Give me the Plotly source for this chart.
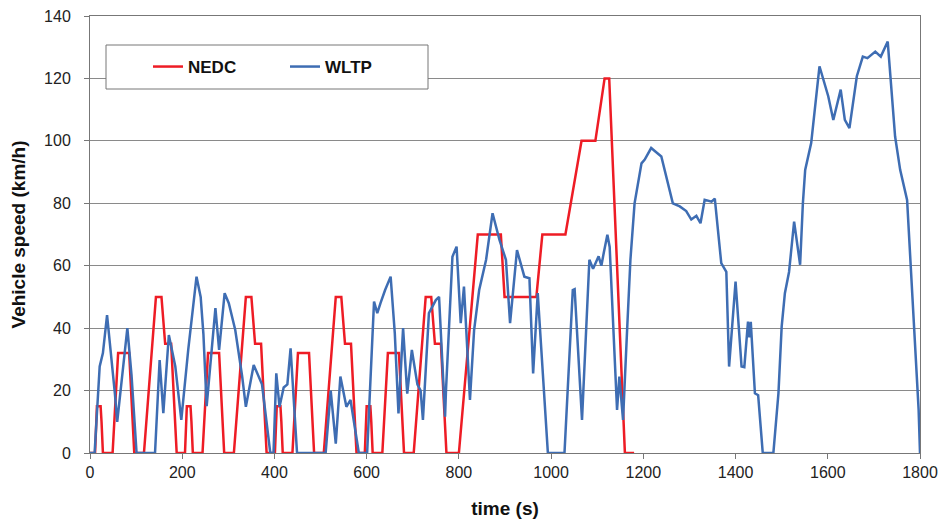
import plotly.graph_objects as go

# NEDC cycle (time s, speed km/h) - 4x ECE-15 + EUDC
ece_t = [0, 11, 15, 23, 25, 28, 49, 61, 85, 96, 117, 143, 155, 163, 176, 188, 195]
ece_v = [0, 0, 15, 15, 10, 0, 0, 32, 32, 0, 0, 50, 50, 35, 35, 0, 0]
eudc_t = [780, 800, 841, 891, 899, 968, 981, 1031, 1066, 1096, 1116, 1126, 1160, 1180]
eudc_v = [0, 0, 70, 70, 50, 50, 70, 70, 100, 100, 120, 120, 0, 0]

nedc_t, nedc_v = [], []
for k in range(4):
    for t, v in zip(ece_t, ece_v):
        nedc_t.append(t + 195 * k)
        nedc_v.append(v)
nedc_t += eudc_t
nedc_v += eudc_v

# WLTP (WLTC class 3)
wltp_t = [0, 10, 21, 28, 37, 43, 54, 59, 81, 90, 101, 141, 151, 159, 171, 185, 198,
          213, 231, 240, 246, 253, 272, 280, 292, 301, 315, 330, 338, 355, 365, 373,
          391, 398, 404, 411, 420, 428, 435, 449, 511, 522, 533, 543, 556, 565, 583,
          601, 616, 623, 630, 640, 652, 661, 669, 679, 688, 698, 710, 717, 722, 735,
          750, 757, 770, 772, 786, 795, 804, 811, 824, 833, 844, 859, 873, 888, 902,
          911, 926, 942, 953, 961, 971, 993, 1029, 1047, 1051, 1067, 1083, 1091, 1103,
          1109, 1114, 1122, 1127, 1139, 1143, 1148, 1156, 1165, 1172, 1181, 1196, 1203,
          1217, 1239, 1264, 1279, 1293, 1304, 1315, 1324, 1333, 1348, 1355, 1369, 1380,
          1386, 1400, 1413, 1419, 1427, 1430, 1433, 1442, 1449, 1459, 1482, 1493, 1500,
          1507, 1516, 1527, 1540, 1546, 1551, 1564, 1582, 1601, 1612, 1628, 1637, 1647,
          1663, 1676, 1686, 1703, 1715, 1730, 1746, 1757, 1772, 1785, 1797, 1800]
wltp_v = [0, 0, 27.7, 32, 44.2, 36, 19, 10, 40, 25, 0, 0, 29.8, 12.8, 37.8, 27.7, 10.6,
          33, 56.5, 50, 38, 15, 46.4, 33, 51.2, 48, 39.4, 24.5, 14.8, 28.2, 24.5, 22,
          0, 0, 25.5, 14.8, 21, 22, 33.5, 0, 0, 20, 3, 24.5, 14.8, 17, 0,
          0, 48.5, 44.8, 48, 52.2, 56.5, 38.4, 12.7, 40, 19, 33, 22, 20, 10.6, 44.8,
          49, 50, 11.6, 20, 62.9, 66.1, 41.6, 53.3, 17, 39.4, 52.2, 61.9, 76.8, 68.3, 61.9,
          41.6, 65, 56.5, 56, 25.5, 51.2, 0, 0, 52.2, 52.5, 10.6, 61.9, 59, 63,
          60, 64, 69.9, 66, 24.5, 13.8, 24.5, 10.6, 40, 61.9, 80, 92.8, 94,
          97.7, 95, 80, 79, 77.5, 74.8, 76, 73.6, 81.1, 80.5, 81.5, 60.8, 58,
          27.7, 54.9, 27.7, 27.5, 42.1, 37, 42, 19.1, 18.5, 0, 0, 19.1, 40.5,
          51.2, 58, 74.1, 60.3, 80, 90.7, 99.3, 123.9, 114.3, 106.7, 116.4, 106.7, 104.1,
          120.7, 127, 126.5, 128.6, 127, 131.8, 101.4, 90.7, 81.1, 45.8, 13.9, 0]

x_ticks = [0, 200, 400, 600, 800, 1000, 1200, 1400, 1600, 1800]
y_ticks = [0, 20, 40, 60, 80, 100, 120, 140]

fig = go.Figure()
fig.add_trace(go.Scatter(x=nedc_t, y=nedc_v, mode="lines", name="NEDC",
                         line=dict(color="#ee1c25", width=2.5)))
fig.add_trace(go.Scatter(x=wltp_t, y=wltp_v, mode="lines", name="WLTP",
                         line=dict(color="#3e6db3", width=2.5)))

axis_font = dict(family="Liberation Sans, Arial, sans-serif", size=16, color="#222")
title_font = dict(family="Liberation Sans, Arial, sans-serif", size=19, color="#111")

W, H = 940, 511
L, R, T, B = 82, 28, 8, 66
pw, ph = W - L - R, H - T - B

fig.update_layout(
    width=W, height=H,
    margin=dict(l=L, r=R, t=T, b=B, autoexpand=False),
    paper_bgcolor="white", plot_bgcolor="white",
    showlegend=True,
    legend=dict(orientation="h", x=58 / pw, y=1 - 51 / ph, xanchor="left", yanchor="middle",
                bgcolor="rgba(0,0,0,0)", borderwidth=0,
                font=dict(family="Liberation Sans, Arial, sans-serif", size=17, color="#111", weight="bold"),
                itemwidth=30, entrywidth=92, tracegroupgap=0),
    shapes=[dict(type="rect", xref="paper", yref="paper",
                 x0=16 / pw, x1=338 / pw, y0=1 - 73 / ph, y1=1 - 29 / ph,
                 line=dict(color="#777", width=1), fillcolor="white", layer="above")],
    xaxis=dict(range=[0, 1800], tickvals=x_ticks, ticks="outside", ticklen=5,
               tickcolor="#777", showgrid=False, zeroline=False, automargin=False,
               showline=True, linecolor="#777", linewidth=1, mirror=True,
               tickfont=axis_font, ticklabeloverflow="allow",
               title=dict(text="<b>time (s)</b>", font=title_font, standoff=21)),
    yaxis=dict(range=[0, 140], tickvals=y_ticks, ticks="outside", ticklen=5,
               tickcolor="#777", showgrid=True, gridcolor="#8a8a8a", gridwidth=1,
               zeroline=False, showline=True, linecolor="#777", linewidth=1, mirror=True,
               tickfont=axis_font, ticklabelstandoff=10, automargin=False,
               ticklabeloverflow="allow",
               title=dict(text="<b>Vehicle speed (km/h)</b>", font=title_font, standoff=17)),
)

fig.write_html("out.html")
